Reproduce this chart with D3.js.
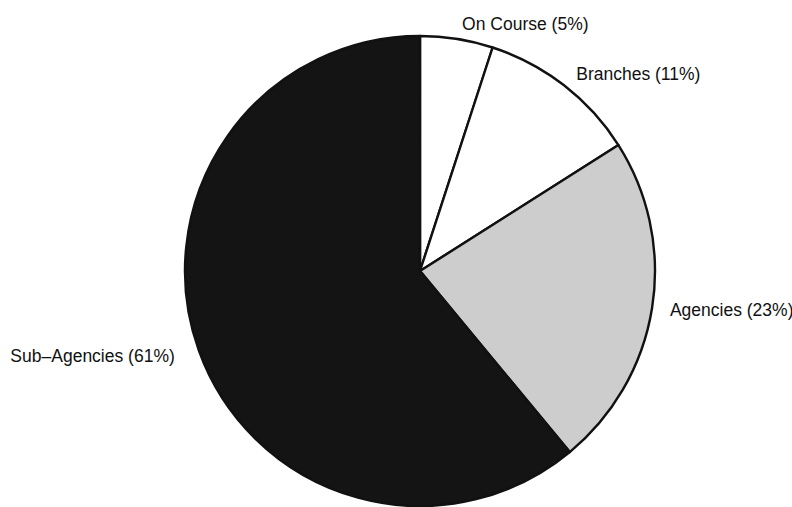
<!DOCTYPE html>
<html>
<head>
<meta charset="utf-8">
<script src="https://cdn.jsdelivr.net/npm/d3@7"></script>
<style>
  html, body { margin: 0; padding: 0; background: #fff; }
  svg { display: block; }
</style>
</head>
<body>
<svg id="chart"></svg>
<script>
// Pie chart - share by channel

const categories = ['On Course', 'Branches', 'Agencies', 'Sub\u2013Agencies'];
const shares = [5, 11, 23, 61];
const fills = ['#ffffff', '#ffffff', '#cdcdcd', '#141414'];

const width = 792;
const height = 507;
const cx = 420;
const cy = 271;
const radius = 235;

const svg = d3.select('#chart')
  .attr('width', width)
  .attr('height', height);

const g = svg.append('g')
  .attr('transform', `translate(${cx},${cy})`);

const data = categories.map((name, i) => ({ name, value: shares[i], fill: fills[i] }));

const pie = d3.pie()
  .value(d => d.value)
  .sort(null);

const arc = d3.arc()
  .innerRadius(0)
  .outerRadius(radius);

const labelArc = d3.arc()
  .innerRadius(radius + 15)
  .outerRadius(radius + 15);

const arcs = pie(data);
const midAngle = d => (d.startAngle + d.endAngle) / 2;

g.selectAll('.slice')
  .data(arcs)
  .enter()
  .append('path')
  .attr('class', 'slice')
  .attr('d', arc)
  .style('fill', d => d.data.fill)
  .style('stroke', '#111')
  .style('stroke-width', '2.4px')
  .style('stroke-linejoin', 'round');

// Labels
g.selectAll('.label')
  .data(arcs)
  .enter()
  .append('text')
  .attr('class', 'label')
  .attr('transform', d => {
    const [x, y] = labelArc.centroid(d);
    return `translate(${x},${y})`;
  })
  .attr('dx', d => (midAngle(d) < Math.PI ? 3 : -10))
  .attr('dy', '0.35em')
  .attr('text-anchor', d => (midAngle(d) < Math.PI ? 'start' : 'end'))
  .style('font-family', 'Liberation Sans, Arial, sans-serif')
  .style('font-size', '17.5px')
  .style('fill', '#111')
  .text(d => `${d.data.name} (${d.data.value}%)`);
</script>
</body>
</html>
